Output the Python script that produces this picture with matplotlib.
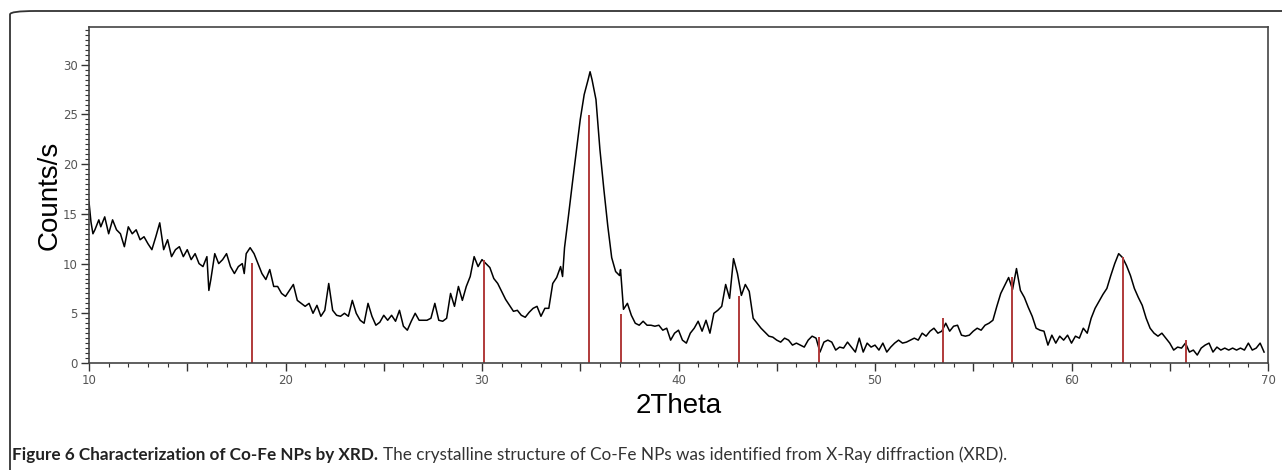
import matplotlib
matplotlib.use('Agg')
import matplotlib.pyplot as plt
from matplotlib.patches import FancyBboxPatch
from matplotlib.ticker import MultipleLocator, FuncFormatter

# measured XRD pattern (2theta in degrees, counts/s)
two_theta = [10.0, 10.1, 10.2, 10.3, 10.5, 10.6, 10.8, 11.0, 11.2, 11.4, 11.6, 11.8,
             12.0, 12.2, 12.4, 12.6, 12.8, 13.0, 13.2, 13.4, 13.6, 13.8, 14.0, 14.2,
             14.4, 14.6, 14.8, 15.0, 15.2, 15.4, 15.6, 15.8, 16.0, 16.1, 16.2, 16.4,
             16.6, 16.8, 17.0, 17.2, 17.4, 17.6, 17.8, 17.9, 18.0, 18.2, 18.4, 18.6,
             18.8, 19.0, 19.2, 19.4, 19.6, 19.8, 20.0, 20.2, 20.4, 20.6, 20.8, 21.0,
             21.2, 21.4, 21.6, 21.8, 22.0, 22.2, 22.4, 22.6, 22.8, 23.0, 23.2, 23.4,
             23.6, 23.8, 24.0, 24.2, 24.4, 24.6, 24.8, 25.0, 25.2, 25.4, 25.6, 25.8,
             26.0, 26.2, 26.4, 26.6, 26.8, 27.0, 27.2, 27.4, 27.6, 27.8, 28.0, 28.2,
             28.4, 28.6, 28.8, 29.0, 29.2, 29.4, 29.6, 29.8, 30.0, 30.2, 30.4, 30.6,
             30.8, 31.0, 31.2, 31.4, 31.6, 31.8, 32.0, 32.2, 32.4, 32.6, 32.8, 33.0,
             33.2, 33.4, 33.6, 33.8, 34.0, 34.1, 34.2, 34.4, 34.6, 34.8, 35.0, 35.2,
             35.4, 35.5, 35.6, 35.8, 35.9, 36.0, 36.2, 36.4, 36.6, 36.8, 37.0, 37.05,
             37.2, 37.4, 37.6, 37.8, 38.0, 38.2, 38.4, 38.6, 38.8, 39.0, 39.2, 39.4,
             39.6, 39.8, 40.0, 40.2, 40.4, 40.6, 40.8, 41.0, 41.2, 41.4, 41.6, 41.8,
             42.0, 42.2, 42.4, 42.6, 42.8, 43.0, 43.2, 43.4, 43.6, 43.8, 44.0, 44.2,
             44.4, 44.6, 44.8, 45.0, 45.2, 45.4, 45.6, 45.8, 46.0, 46.2, 46.4, 46.6,
             46.8, 47.0, 47.2, 47.4, 47.6, 47.8, 48.0, 48.2, 48.4, 48.6, 48.8, 49.0,
             49.2, 49.4, 49.6, 49.8, 50.0, 50.2, 50.4, 50.6, 50.8, 51.0, 51.2, 51.4,
             51.6, 51.8, 52.0, 52.2, 52.4, 52.6, 52.8, 53.0, 53.2, 53.4, 53.6, 53.8,
             54.0, 54.2, 54.4, 54.6, 54.8, 55.0, 55.2, 55.4, 55.6, 55.8, 56.0, 56.2,
             56.4, 56.6, 56.8, 57.0, 57.2, 57.4, 57.6, 57.8, 58.0, 58.2, 58.4, 58.6,
             58.8, 59.0, 59.2, 59.4, 59.6, 59.8, 60.0, 60.2, 60.4, 60.6, 60.8, 61.0,
             61.2, 61.4, 61.6, 61.8, 62.0, 62.2, 62.4, 62.6, 62.8, 63.0, 63.2, 63.4,
             63.6, 63.8, 64.0, 64.2, 64.4, 64.6, 64.8, 65.0, 65.2, 65.4, 65.6, 65.8,
             66.0, 66.2, 66.4, 66.6, 66.8, 67.0, 67.2, 67.4, 67.6, 67.8, 68.0, 68.2,
             68.4, 68.6, 68.8, 69.0, 69.2, 69.4, 69.6, 69.8]
counts = [16.2, 14.2, 13.0, 13.4, 14.4, 13.7, 14.7, 13.0, 14.4, 13.4, 13.0, 11.7,
          13.7, 13.0, 13.4, 12.4, 12.7, 12.0, 11.4, 12.7, 14.1, 11.4, 12.4, 10.7,
          11.4, 11.7, 10.7, 11.4, 10.4, 11.0, 10.0, 9.7, 10.7, 7.3, 8.4, 11.0,
          10.0, 10.4, 11.0, 9.7, 9.0, 9.7, 10.0, 9.0, 11.0, 11.6, 11.0, 10.0,
          9.0, 8.4, 9.4, 7.7, 7.7, 7.0, 6.7, 7.3, 7.9, 6.3, 6.0, 5.7,
          6.0, 5.0, 5.8, 4.7, 5.3, 8.0, 5.3, 4.8, 4.7, 5.0, 4.7, 6.3,
          5.0, 4.3, 4.0, 6.0, 4.7, 3.8, 4.1, 4.8, 4.3, 4.8, 4.2, 5.3,
          3.7, 3.3, 4.2, 5.0, 4.3, 4.3, 4.3, 4.5, 6.0, 4.3, 4.2, 4.5,
          7.0, 5.7, 7.7, 6.3, 7.7, 8.7, 10.7, 9.7, 10.4, 10.0, 9.6, 8.5,
          8.0, 7.2, 6.4, 5.8, 5.2, 5.3, 4.8, 4.6, 5.1, 5.5, 5.7, 4.7,
          5.5, 5.5, 8.0, 8.6, 9.7, 8.7, 11.6, 14.8, 18.1, 21.3, 24.5, 27.0,
          28.5, 29.3, 28.5, 26.5, 24.0, 21.5, 17.5, 13.8, 10.6, 9.2, 8.8, 9.4,
          5.4, 6.0, 4.8, 4.0, 3.8, 4.2, 3.8, 3.8, 3.7, 3.8, 3.3, 3.5,
          2.3, 3.0, 3.3, 2.3, 2.0, 3.0, 3.5, 4.2, 3.2, 4.3, 3.0, 5.0,
          5.3, 5.7, 7.9, 6.5, 10.5, 9.0, 6.8, 7.9, 7.2, 4.5, 4.0, 3.5,
          3.1, 2.7, 2.6, 2.3, 2.1, 2.5, 2.3, 1.8, 2.0, 1.8, 1.6, 2.3,
          2.7, 2.5, 1.1, 2.1, 2.3, 2.1, 1.3, 1.6, 1.5, 2.1, 1.6, 1.1,
          2.5, 1.1, 2.0, 1.6, 1.8, 1.3, 2.0, 1.1, 1.6, 2.0, 2.3, 2.0,
          2.1, 2.3, 2.5, 2.3, 3.0, 2.7, 3.2, 3.5, 3.0, 3.2, 4.0, 3.2,
          3.7, 3.8, 2.8, 2.7, 2.8, 3.2, 3.5, 3.3, 3.8, 4.0, 4.3, 5.7,
          7.0, 7.8, 8.6, 7.4, 9.5, 7.3, 6.6, 5.6, 4.7, 3.5, 3.3, 3.2,
          1.8, 2.8, 2.0, 2.7, 2.3, 2.8, 2.0, 2.7, 2.5, 3.5, 3.0, 4.5,
          5.5, 6.2, 6.9, 7.5, 8.8, 10.0, 11.0, 10.6, 9.8, 8.8, 7.5, 6.6,
          5.8, 4.5, 3.5, 3.0, 2.7, 3.0, 2.5, 2.0, 1.3, 1.6, 1.5, 2.0,
          1.1, 1.3, 0.8, 1.5, 1.8, 2.0, 1.1, 1.6, 1.3, 1.5, 1.3, 1.5,
          1.3, 1.5, 1.3, 2.0, 1.3, 1.5, 2.0, 1.1]

# reference peak positions (CoFe2O4) and their relative heights
ref_pos = [18.3, 30.08, 35.45, 37.08, 43.06, 47.17, 53.47, 56.97, 62.62, 65.83]
ref_height = [10.1, 10.4, 24.9, 4.9, 6.7, 2.6, 4.5, 8.7, 10.7, 2.3]

fig = plt.figure(figsize=(12.82, 4.70), dpi=100)

# rounded frame around the figure panel (open to the right / bottom)
frame = FancyBboxPatch((10 / 1282, -0.2), 1.2, 1.2 - 11 / 470,
                       boxstyle='round,pad=0,rounding_size=0.02',
                       transform=fig.transFigure, facecolor='none',
                       edgecolor='#333333', linewidth=1.3, mutation_aspect=470 / 1282)
fig.patches.append(frame)

ax = fig.add_axes([89 / 1282, 107 / 470, 1179 / 1282, 336 / 470])
ax.plot(two_theta, counts, color='black', linewidth=1.1)
ax.vlines(ref_pos, 0, ref_height, color='#b03a3a', linewidth=1.4)

ax.set_xlim(10, 70)
ax.set_ylim(0, 33.8)
ax.xaxis.set_major_locator(MultipleLocator(5))
ax.xaxis.set_minor_locator(MultipleLocator(1))
ax.xaxis.set_major_formatter(FuncFormatter(lambda v, p: '%d' % v if v % 10 == 0 else ''))
ax.yaxis.set_major_locator(MultipleLocator(5))
ax.yaxis.set_minor_locator(MultipleLocator(0.5))
ax.tick_params(which='major', direction='out', length=6, width=1.0, color='#333333',
               labelsize=8.5, labelcolor='#555555', pad=2)
ax.tick_params(which='minor', direction='out', length=3, width=0.8, color='#333333')
for s in ax.spines.values():
    s.set_color('#444444')
    s.set_linewidth(1.2)

ax.set_xlabel('2Theta', fontsize=20, family='Liberation Sans', labelpad=4)
ax.set_ylabel('Counts/s', fontsize=20, family='Liberation Sans', labelpad=0)

# caption
t1 = fig.text(12 / 1282, 10 / 470, 'Figure 6 Characterization of Co-Fe NPs by XRD.',
              fontsize=12.3, fontweight='bold', family='Lato', color='#222222',
              va='baseline')
fig.canvas.draw()
bb = t1.get_window_extent()
fig.text((bb.x1 + 5) / 1282, 10 / 470,
         'The crystalline structure of Co-Fe NPs was identified from X-Ray diffraction (XRD).',
         fontsize=12.3, family='Lato', color='#333333', va='baseline')

plt.savefig('out.png', dpi=100)
